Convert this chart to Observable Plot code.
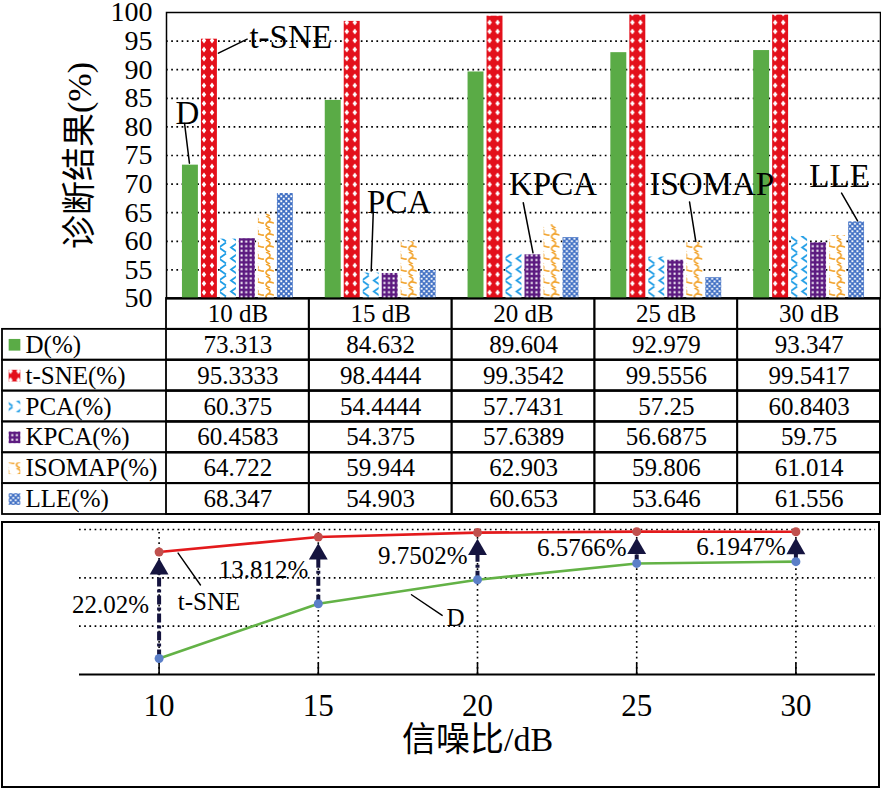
<!DOCTYPE html>
<html><head><meta charset="utf-8">
<script src="https://cdn.jsdelivr.net/npm/d3@7"></script>
<script src="https://cdn.jsdelivr.net/npm/@observablehq/plot@0.6"></script>
<style>
html,body{margin:0;padding:0;background:#fff;overflow:hidden;}
#wrap{position:relative;width:881px;height:790px;}
.layer{position:absolute;left:0;}
#box{position:absolute;left:1px;top:521px;width:879px;height:267px;border:2px solid #000;box-sizing:border-box;}
</style></head><body>
<svg width="0" height="0" style="position:absolute">
<defs>
  <pattern id="p-d" patternUnits="userSpaceOnUse" width="8" height="8"><rect width="8" height="8" fill="#5aab46"/></pattern>
  <pattern id="p-tsne" patternUnits="userSpaceOnUse" width="8" height="9">
    <rect width="8" height="9" fill="#e3101b"/>
    <path d="M4,1.6 L6.2,4.5 L4,7.4 L1.8,4.5Z" fill="#fff"/>
  </pattern>
  <pattern id="p-pca" patternUnits="userSpaceOnUse" width="12" height="11">
    <rect width="12" height="11" fill="#fff"/>
    <path d="M10,0.5 L3,5.5 L10,10.5" stroke="#1f9de6" stroke-width="1.8" fill="none"/>
  </pattern>
  <pattern id="p-kpca" patternUnits="userSpaceOnUse" width="4.6" height="4.6">
    <rect width="4.6" height="4.6" fill="#5c1a80"/>
    <rect x="1.4" y="1.4" width="2" height="2" fill="#fff"/>
  </pattern>
  <pattern id="p-iso" patternUnits="userSpaceOnUse" width="12" height="12">
    <rect width="12" height="12" fill="#fff"/>
    <path d="M2,0 C7,2 7,4 4,6 C1,8 1,10 6,12" stroke="#f2a42e" stroke-width="1.6" fill="none"/>
    <path d="M4,6 C7,5 9,8 12,7" stroke="#f2a42e" stroke-width="1.6" fill="none"/>
  </pattern>
  <pattern id="p-lle" patternUnits="userSpaceOnUse" width="5" height="5">
    <rect width="5" height="5" fill="#4170c4"/>
    <rect x="0.3" y="0.3" width="1.9" height="1.9" fill="#fff"/>
    <rect x="2.8" y="2.8" width="1.9" height="1.9" fill="#fff"/>
  </pattern>
</defs></svg>
<div id="wrap">
  <div id="box"></div>
  <div id="line" class="layer" style="top:519px;z-index:1"></div>
  <div id="table" class="layer" style="top:298px;z-index:2"></div>
  <div id="bars" class="layer" style="top:0;z-index:3"></div>
</div>
<script>
// ---------- data ----------
const cats = ["10 dB", "15 dB", "20 dB", "25 dB", "30 dB"];
const snr = [10, 15, 20, 25, 30];
const methods = ["D", "t-SNE", "PCA", "KPCA", "ISOMAP", "LLE"];
const dVals = [73.313, 84.632, 89.604, 92.979, 93.347];
const tsneVals = [95.3333, 98.4444, 99.3542, 99.5556, 99.5417];
const pcaVals = [60.375, 54.4444, 57.7431, 57.25, 60.8403];
const kpcaVals = [60.4583, 54.375, 57.6389, 56.6875, 59.75];
const isomapVals = [64.722, 59.944, 62.903, 59.806, 61.014];
const lleVals = [68.347, 54.903, 60.653, 53.646, 61.556];
// LLE bar heights as drawn in the figure (the 30 dB bar is drawn taller than its table value)
const lleBarVals = [68.347, 54.903, 60.653, 53.646, 63.4];
const gapLabels = ["22.02%", "13.812%", "9.7502%", "6.5766%", "6.1947%"];
const yTicks = [50, 55, 60, 65, 70, 75, 80, 85, 90, 95, 100];
const gridTicks = [55, 60, 65, 70, 75, 80, 85, 90, 95];
const lineGrid = [80, 90, 100];
const yTitle = "诊断结果(%)";
const xTitle = "信噪比/dB";

// ---------- derived tables ----------
const tableSeries = {"D": dVals, "t-SNE": tsneVals, "PCA": pcaVals, "KPCA": kpcaVals, "ISOMAP": isomapVals, "LLE": lleVals};
const barSeries = {...tableSeries, "LLE": lleBarVals};
const patternFill = {"D": "url(#p-d)", "t-SNE": "url(#p-tsne)", "PCA": "url(#p-pca)", "KPCA": "url(#p-kpca)", "ISOMAP": "url(#p-iso)", "LLE": "url(#p-lle)"};
const barData = cats.flatMap((c, i) => methods.map(m => ({cat: c, method: m, value: barSeries[m][i]})));
const tableData = cats.flatMap((c, i) => methods.map(m => ({cat: c, method: m, value: tableSeries[m][i]})));
const rows = ["hdr", ...methods];
const lineData = snr.map((s, i) => ({snr: s, d: dVals[i], t: tsneVals[i], gap: gapLabels[i]}));

const font = `"Liberation Serif","Times New Roman","Noto Sans CJK SC",serif`;
const baseStyle = (fs) => ({background: "none", overflow: "visible", fontFamily: font, fontSize: fs, color: "#000"});
const leaderShape = {draw(ctx, l) { ctx.moveTo(0, 0); ctx.lineTo(0, -l); }};

// annotation callouts on bars
const barNotes = [
  {label: "D", cat: "10 dB", method: "D"},
  {label: "t-SNE", cat: "10 dB", method: "t-SNE"},
  {label: "PCA", cat: "15 dB", method: "PCA"},
  {label: "KPCA", cat: "20 dB", method: "KPCA"},
  {label: "ISOMAP", cat: "25 dB", method: "ISOMAP"},
  {label: "LLE", cat: "30 dB", method: "LLE"}
].map(n => ({...n, value: barSeries[n.method][cats.indexOf(n.cat)]}));
const barNoteStyle = {
  "D":      {sx: -1, sy: -2, len: 40, rot: -7,  tdx: -3, tdy: -52, anchor: "middle"},
  "t-SNE":  {sx: 9,  sy: 14, len: 32, rot: 64,  tdx: 40, tdy: -2,  anchor: "start"},
  "PCA":    {sx: 0,  sy: -2, len: 58, rot: 2,   tdx: 28, tdy: -71, anchor: "middle"},
  "KPCA":   {sx: 0,  sy: -2, len: 51, rot: -11, tdx: 20, tdy: -70, anchor: "middle"},
  "ISOMAP": {sx: 1,  sy: -1, len: 40, rot: -9,  tdx: 17, tdy: -58, anchor: "middle"},
  "LLE":    {sx: 1,  sy: -1, len: 32, rot: -30, tdx: -17, tdy: -45, anchor: "middle"}
};
const barNoteMarks = barNotes.flatMap(n => {
  const s = barNoteStyle[n.label];
  return [
    Plot.vector([n], {fx: "cat", x: "method", y: "value", length: s.len, rotate: s.rot, anchor: "start",
      shape: leaderShape, stroke: "#000", strokeWidth: 1.5, dx: s.sx, dy: s.sy}),
    Plot.text([n], {fx: "cat", x: "method", y: "value", text: "label", fontSize: 33,
      textAnchor: s.anchor, dx: s.tdx, dy: s.tdy})
  ];
});

// ---------- bar chart ----------
const bars = Plot.plot({
  width: 881, height: 300,
  marginLeft: 166, marginRight: 1, marginTop: 12, marginBottom: 2,
  style: baseStyle("28px"),
  fx: {domain: cats, padding: 0, axis: null, round: false, label: null},
  x: {domain: methods, paddingInner: 0.16, paddingOuter: 0.84, axis: null, round: false, label: null},
  y: {domain: [50, 100], axis: null, label: null},
  color: {type: "identity"},
  marks: [
    Plot.ruleY(gridTicks, {stroke: "#000", strokeWidth: 1.7, strokeDasharray: "1.7,3.5"}),
    Plot.barY(barData, {fx: "cat", x: "method", y1: yTicks[0], y2: "value", fill: d => patternFill[d.method]}),
    Plot.frame({facet: "super", stroke: "#000", strokeWidth: 1.5}),
    Plot.ruleY([yTicks[0]], {stroke: "#000", strokeWidth: 2.2}),
    Plot.axisY(yTicks, {tickSize: 0, tickPadding: 14, fontSize: 28, label: null}),
    Plot.text([{cat: cats[0], t: yTitle}], {fx: "cat", text: "t", frameAnchor: "left", textAnchor: "middle",
      lineAnchor: "middle", dx: -86, rotate: -90, fontSize: 34}),
    ...barNoteMarks
  ]
});
document.getElementById("bars").appendChild(bars);

// ---------- table ----------
const table = Plot.plot({
  width: 881, height: 222,
  marginLeft: 2, marginRight: 1, marginTop: 0, marginBottom: 6,
  style: baseStyle("25px"),
  x: {domain: cats, range: [166, 880], padding: 0, axis: null, round: false, label: null},
  y: {domain: rows, padding: 0, axis: null, round: false, label: null},
  color: {type: "identity"},
  marks: [
    Plot.cell(methods, {y: d => d, fill: "none", stroke: "#000", strokeWidth: 1.8, inset: 0}),
    Plot.cell(rows.flatMap(r => cats.map(c => ({r, c}))), {x: "c", y: "r", fill: "none", stroke: "#000", strokeWidth: 1.8, inset: 0}),
    Plot.text(cats, {x: d => d, y: () => "hdr", text: d => d, fontSize: 25}),
    Plot.text(tableData, {x: "cat", y: "method", text: d => String(d.value), fontSize: 25}),
    Plot.text(methods, {y: d => d, frameAnchor: "left", dx: 23, textAnchor: "start", text: d => d + "(%)", fontSize: 25}),
    Plot.dot(methods, {y: d => d, frameAnchor: "left", dx: 12, symbol: "square", r: 6.6, fill: d => patternFill[d]})
  ]
});
document.getElementById("table").appendChild(table);

// ---------- line chart ----------
const navy = "#15143f";
const lineNotes = [
  {label: "t-SNE", snr: 10, v: tsneVals[0], sx: 19, sy: 1, len: 39, rot: 145, tdx: 50, tdy: 50},
  {label: "D", snr: 20, v: dVals[2], sx: -66, sy: 15, len: 37, rot: 124, tdx: -22, tdy: 38}
];
const lineNoteMarks = lineNotes.flatMap(n => [
  Plot.vector([n], {x: "snr", y: "v", length: n.len, rotate: n.rot, anchor: "start", shape: leaderShape,
    stroke: "#000", strokeWidth: 1.4, dx: n.sx, dy: n.sy}),
  Plot.text([n], {x: "snr", y: "v", text: "label", fontSize: 25, dx: n.tdx, dy: n.tdy})
]);
const line = Plot.plot({
  width: 881, height: 271,
  marginLeft: 79, marginRight: 6, marginTop: 10, marginBottom: 116,
  style: baseStyle("31px"),
  x: {domain: [7.5, 32.5], axis: null, label: null},
  y: {domain: [70, 100], axis: null, label: null},
  marks: [
    Plot.ruleY(lineGrid, {stroke: "#000", strokeWidth: 1.6, strokeDasharray: "1.7,3.5"}),
    Plot.ruleX(snr, {y1: 70, y2: 100, stroke: "#000", strokeWidth: 1.6, strokeDasharray: "1.7,3.5"}),
    Plot.ruleY([70], {stroke: "#000", strokeWidth: 2}),
    Plot.axisX(snr, {tickSize: -11, text: null, strokeWidth: 1.6, label: null}),
    Plot.axisX(snr, {tickSize: 0, tickPadding: 19, fontSize: 31, label: null}),
    Plot.text([xTitle], {frameAnchor: "bottom", dy: 76, fontSize: 34}),
    Plot.line(lineData, {x: "snr", y: "t", stroke: "#e31a1c", strokeWidth: 2.6}),
    Plot.line(lineData, {x: "snr", y: "d", stroke: "#63b246", strokeWidth: 2.6}),
    Plot.arrow(lineData, {x1: "snr", x2: "snr", y1: "d", y2: "t", insetEnd: 14, headLength: 0,
      stroke: navy, strokeWidth: 4, strokeDasharray: "9,3,3,3", strokeLinecap: "butt"}),
    Plot.dot(lineData, {x: "snr", y: "t", symbol: "triangle", r: 7, fill: navy, dy: 17}),
    Plot.dot(lineData, {x: "snr", y: "t", r: 4.5, fill: "#c0504d"}),
    Plot.dot(lineData, {x: "snr", y: "d", r: 4.5, fill: "#5b7fc8"}),
    Plot.text(lineData, {x: "snr", y: d => (d.d + d.t) / 2, text: "gap", textAnchor: "end", dx: -10, fontSize: 25}),
    ...lineNoteMarks
  ]
});
document.getElementById("line").appendChild(line);
</script>
</body></html>
